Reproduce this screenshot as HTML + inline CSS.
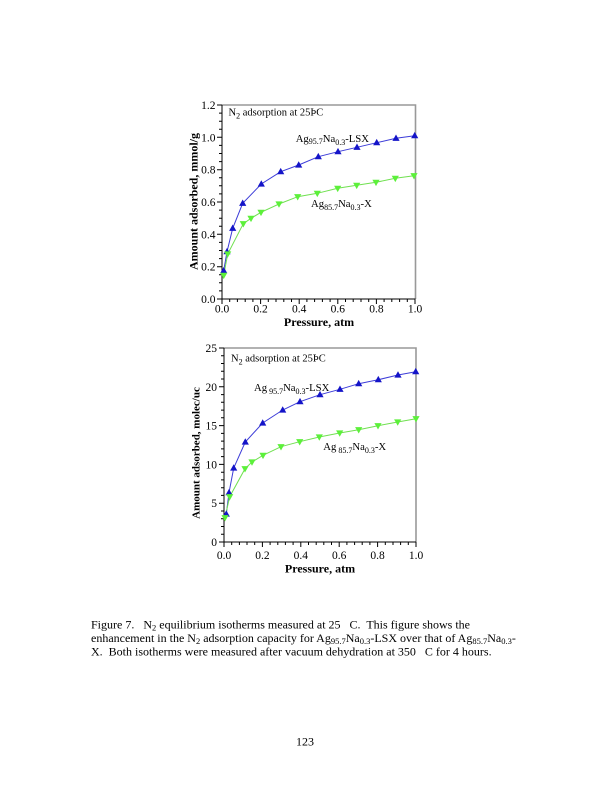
<!DOCTYPE html>
<html>
<head>
<meta charset="utf-8">
<style>
html,body{margin:0;padding:0;background:#fff;}
svg{display:block;}
text{font-family:"Liberation Serif","DejaVu Serif",serif;fill:#000;}
.tl{font-size:11.5px;}
.b{font-weight:bold;}
</style>
</head>
<body>
<svg width="612" height="792" viewBox="0 0 612 792" xmlns="http://www.w3.org/2000/svg">
<rect x="0" y="0" width="612" height="792" fill="#fff"/>
<defs>
  <path id="up" d="M-3.6,2.6 L3.6,2.6 L0,-3.8 Z" fill="#1414c8"/>
  <path id="dn" d="M-3.6,-2.6 L3.6,-2.6 L0,3.8 Z" fill="#5cf03a"/>
</defs>

<!-- ================= TOP CHART ================= -->
<g>
  <!-- frame -->
  <path d="M222,105 H415.5 V299" fill="none" stroke="#999" stroke-width="1.6"/>
  <path d="M222,105 V299 H415.5" fill="none" stroke="#000" stroke-width="1"/>
  <!-- x ticks -->
  <path stroke="#000" stroke-width="1" fill="none" d="
    M222,299v5 M260.6,299v5 M299.2,299v5 M337.8,299v5 M376.4,299v5 M415,299v5
    M229.7,299v3 M237.4,299v3 M245.2,299v3 M252.9,299v3
    M268.3,299v3 M276,299v3 M283.8,299v3 M291.5,299v3
    M306.9,299v3 M314.6,299v3 M322.4,299v3 M330.1,299v3
    M345.5,299v3 M353.2,299v3 M361,299v3 M368.7,299v3
    M384.1,299v3 M391.8,299v3 M399.6,299v3 M407.3,299v3"/>
  <!-- y ticks -->
  <path stroke="#000" stroke-width="1" fill="none" d="
    M222,299h-5 M222,266.7h-5 M222,234.3h-5 M222,202h-5 M222,169.7h-5 M222,137.3h-5 M222,105h-5
    M222,290.9h-3 M222,282.8h-3 M222,274.7h-3
    M222,258.6h-3 M222,250.5h-3 M222,242.4h-3
    M222,226.2h-3 M222,218.2h-3 M222,210.1h-3
    M222,193.9h-3 M222,185.8h-3 M222,177.7h-3
    M222,161.6h-3 M222,153.5h-3 M222,145.4h-3
    M222,129.2h-3 M222,121.2h-3 M222,113.1h-3"/>
  <!-- y labels -->
  <g class="tl" text-anchor="end">
    <text x="215.5" y="303">0.0</text>
    <text x="215.5" y="270.7">0.2</text>
    <text x="215.5" y="238.3">0.4</text>
    <text x="215.5" y="206">0.6</text>
    <text x="215.5" y="173.7">0.8</text>
    <text x="215.5" y="141.3">1.0</text>
    <text x="215.5" y="109">1.2</text>
  </g>
  <!-- x labels -->
  <g class="tl" text-anchor="middle">
    <text x="222" y="312.5">0.0</text>
    <text x="260.6" y="312.5">0.2</text>
    <text x="299.2" y="312.5">0.4</text>
    <text x="337.8" y="312.5">0.6</text>
    <text x="376.4" y="312.5">0.8</text>
    <text x="415" y="312.5">1.0</text>
  </g>
  <text class="b" x="319" y="326" text-anchor="middle" font-size="12">Pressure, atm</text>
  <text class="b" x="0" y="0" font-size="12" text-anchor="middle" transform="translate(197.5,201.5) rotate(-90)">Amount adsorbed, mmol/g</text>

  <text x="228.5" y="115.5" font-size="10.5">N<tspan font-size="8" dy="3">2</tspan><tspan dy="-3"> adsorption at 25ÞC</tspan></text>
  <text x="295.7" y="141.8" font-size="10.7">Ag<tspan font-size="8" dy="2">95.7</tspan><tspan dy="-2">Na</tspan><tspan font-size="8" dy="3">0.3</tspan><tspan dy="-3">-LSX</tspan></text>
  <text x="311" y="207" font-size="10.7">Ag<tspan font-size="8" dy="3">85.7</tspan><tspan dy="-3">Na</tspan><tspan font-size="8" dy="3">0.3</tspan><tspan dy="-3">-X</tspan></text>

  <!-- series -->
  <polyline fill="none" stroke="#3c3cd8" stroke-width="1" points="223.7,270.7 227,251.7 232.7,228.3 242.7,203.3 261.3,184 280.7,171.7 298.7,165 318.3,156.7 338,151.7 357,147.3 376.7,142.7 396,138.3 414.7,135.7"/>
  <polyline fill="none" stroke="#70e050" stroke-width="1" points="223.7,275.3 227.7,254 243.3,223.7 251,218.3 261,212.3 279,204 297.7,196.7 317.3,193.3 337.7,188.3 356.7,185.3 376,182.3 395.3,178.3 414,175.7"/>
  <g>
    <use href="#up" x="223.7" y="270.7"/><use href="#up" x="227" y="251.7"/><use href="#up" x="232.7" y="228.3"/>
    <use href="#up" x="242.7" y="203.3"/><use href="#up" x="261.3" y="184"/><use href="#up" x="280.7" y="171.7"/>
    <use href="#up" x="298.7" y="165"/><use href="#up" x="318.3" y="156.7"/><use href="#up" x="338" y="151.7"/>
    <use href="#up" x="357" y="147.3"/><use href="#up" x="376.7" y="142.7"/><use href="#up" x="396" y="138.3"/>
    <use href="#up" x="414.7" y="135.7"/>
  </g>
  <g>
    <use href="#dn" x="223.7" y="275.3"/><use href="#dn" x="227.7" y="254"/><use href="#dn" x="243.3" y="223.7"/>
    <use href="#dn" x="251" y="218.3"/><use href="#dn" x="261" y="212.3"/><use href="#dn" x="279" y="204"/>
    <use href="#dn" x="297.7" y="196.7"/><use href="#dn" x="317.3" y="193.3"/><use href="#dn" x="337.7" y="188.3"/>
    <use href="#dn" x="356.7" y="185.3"/><use href="#dn" x="376" y="182.3"/><use href="#dn" x="395.3" y="178.3"/>
    <use href="#dn" x="414" y="175.7"/>
  </g>
</g>

<!-- ================= BOTTOM CHART ================= -->
<g>
  <path d="M224,348 H416 V542" fill="none" stroke="#999" stroke-width="1.6"/>
  <path d="M224,348 V542 H416" fill="none" stroke="#000" stroke-width="1"/>
  <path stroke="#000" stroke-width="1" fill="none" d="
    M224,542v5 M262.4,542v5 M300.8,542v5 M339.2,542v5 M377.6,542v5 M416,542v5
    M231.7,542v3 M239.4,542v3 M247,542v3 M254.7,542v3
    M270.1,542v3 M277.8,542v3 M285.4,542v3 M293.1,542v3
    M308.5,542v3 M316.2,542v3 M323.8,542v3 M331.5,542v3
    M346.9,542v3 M354.6,542v3 M362.2,542v3 M369.9,542v3
    M385.3,542v3 M393,542v3 M400.6,542v3 M408.3,542v3"/>
  <path stroke="#000" stroke-width="1" fill="none" d="
    M224,542h-5 M224,503.2h-5 M224,464.4h-5 M224,425.6h-5 M224,386.8h-5 M224,348h-5
    M224,534.2h-3 M224,526.5h-3 M224,518.7h-3 M224,511h-3
    M224,495.4h-3 M224,487.7h-3 M224,479.9h-3 M224,472.2h-3
    M224,456.6h-3 M224,448.9h-3 M224,441.1h-3 M224,433.4h-3
    M224,417.8h-3 M224,410.1h-3 M224,402.3h-3 M224,394.6h-3
    M224,379h-3 M224,371.3h-3 M224,363.5h-3 M224,355.8h-3"/>
  <g class="tl" text-anchor="end">
    <text x="217" y="546">0</text>
    <text x="217" y="507.2">5</text>
    <text x="217" y="468.4">10</text>
    <text x="217" y="429.6">15</text>
    <text x="217" y="390.8">20</text>
    <text x="217" y="352">25</text>
  </g>
  <g class="tl" text-anchor="middle">
    <text x="224" y="559">0.0</text>
    <text x="262.4" y="559">0.2</text>
    <text x="300.8" y="559">0.4</text>
    <text x="339.2" y="559">0.6</text>
    <text x="377.6" y="559">0.8</text>
    <text x="416" y="559">1.0</text>
  </g>
  <text class="b" x="320" y="572.5" text-anchor="middle" font-size="12">Pressure, atm</text>
  <text class="b" x="0" y="0" font-size="11" text-anchor="middle" transform="translate(199.5,453) rotate(-90)">Amount adsorbed, molec/uc</text>

  <text x="231" y="361.5" font-size="10.5">N<tspan font-size="8" dy="3">2</tspan><tspan dy="-3"> adsorption at 25ÞC</tspan></text>
  <text x="254" y="391" font-size="10.7">Ag<tspan font-size="8" dy="3"> 95.7</tspan><tspan dy="-3">Na</tspan><tspan font-size="8" dy="3">0.3</tspan><tspan dy="-3">-LSX</tspan></text>
  <text x="323.3" y="450" font-size="10.7">Ag<tspan font-size="8" dy="3"> 85.7</tspan><tspan dy="-3">Na</tspan><tspan font-size="8" dy="3">0.3</tspan><tspan dy="-3">-X</tspan></text>

  <polyline fill="none" stroke="#3c3cd8" stroke-width="1" points="226.3,514 229,492.7 233.7,468 245.3,442 262.7,423 282.7,410 300,401.7 320,394.7 340,389.3 358.7,383.7 378.3,379.7 398,375 415.7,371.7"/>
  <polyline fill="none" stroke="#70e050" stroke-width="1" points="225,517.7 229.7,496.7 245,468.7 252,462 263,455.3 281,446.7 299.7,441.7 319.3,437 339.7,433 358.7,429.7 378,425.7 397.7,422 416,418.7"/>
  <g>
    <use href="#up" x="226.3" y="514"/><use href="#up" x="229" y="492.7"/><use href="#up" x="233.7" y="468"/>
    <use href="#up" x="245.3" y="442"/><use href="#up" x="262.7" y="423"/><use href="#up" x="282.7" y="410"/>
    <use href="#up" x="300" y="401.7"/><use href="#up" x="320" y="394.7"/><use href="#up" x="340" y="389.3"/>
    <use href="#up" x="358.7" y="383.7"/><use href="#up" x="378.3" y="379.7"/><use href="#up" x="398" y="375"/>
    <use href="#up" x="415.7" y="371.7"/>
  </g>
  <g>
    <use href="#dn" x="225" y="517.7"/><use href="#dn" x="229.7" y="496.7"/><use href="#dn" x="245" y="468.7"/>
    <use href="#dn" x="252" y="462"/><use href="#dn" x="263" y="455.3"/><use href="#dn" x="281" y="446.7"/>
    <use href="#dn" x="299.7" y="441.7"/><use href="#dn" x="319.3" y="437"/><use href="#dn" x="339.7" y="433"/>
    <use href="#dn" x="358.7" y="429.7"/><use href="#dn" x="378" y="425.7"/><use href="#dn" x="397.7" y="422"/>
    <use href="#dn" x="416" y="418.7"/>
  </g>
</g>

<!-- ================= CAPTION ================= -->
<g font-size="12" style="white-space:pre">
  <text x="91" y="628.7" xml:space="preserve">Figure 7.   N<tspan font-size="8.5" dy="2">2</tspan><tspan dy="-2"> equilibrium isotherms measured at 25   C.  This figure shows the</tspan></text>
  <text x="91" y="642" xml:space="preserve">enhancement in the N<tspan font-size="8.5" dy="2">2</tspan><tspan dy="-2"> adsorption capacity for Ag</tspan><tspan font-size="8.5" dy="2">95.7</tspan><tspan dy="-2">Na</tspan><tspan font-size="8.5" dy="2">0.3</tspan><tspan dy="-2">-LSX over that of Ag</tspan><tspan font-size="8.5" dy="2">85.7</tspan><tspan dy="-2">Na</tspan><tspan font-size="8.5" dy="2">0.3</tspan><tspan dy="-2">-</tspan></text>
  <text x="91" y="655.5" xml:space="preserve">X.  Both isotherms were measured after vacuum dehydration at 350   C for 4 hours.</text>
</g>

<text x="305" y="745.3" font-size="12" text-anchor="middle">123</text>
</svg>
</body>
</html>
